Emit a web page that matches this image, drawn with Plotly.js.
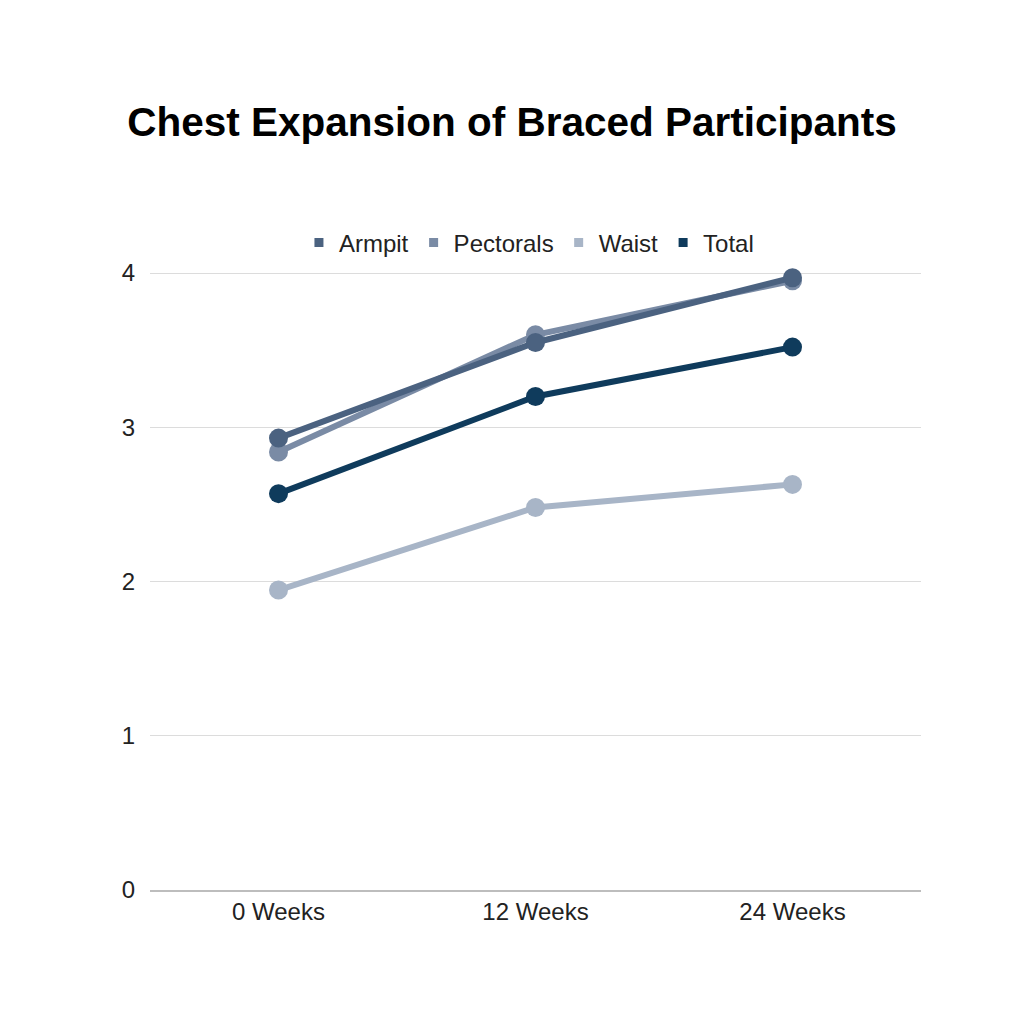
<!DOCTYPE html>
<html><head><meta charset="utf-8">
<script src="https://cdn.plot.ly/plotly-3.0.1.min.js"></script>
<style>body{margin:0;background:#fff}#chart{width:1024px;height:1024px}</style>
</head><body><div id="chart"></div>
<script>
const categories = ["0 Weeks", "12 Weeks", "24 Weeks"];
const seriesNames = ["Armpit", "Pectorals", "Waist", "Total"];
const armpit = [2.93, 3.55, 3.97];
const pectorals = [2.84, 3.60, 3.95];
const waist = [1.945, 2.48, 2.63];
const total = [2.57, 3.20, 3.52];
const yTicks = [0, 1, 2, 3, 4];

const colors = ["#4b6280", "#7a8ba5", "#a8b5c7", "#0f3b5c"];
const values = [armpit, pectorals, waist, total];
const order = [2, 3, 1, 0];
const traces = [];
order.forEach(i => {
  traces.push({
    x: categories, y: values[i], type: "scatter", mode: "lines+markers",
    name: seriesNames[i], showlegend: false, cliponaxis: false,
    line: {color: colors[i], width: 6},
    marker: {color: colors[i], size: 19}
  });
});
[0,1,2,3].forEach(i => {
  traces.push({
    x: [null], y: [null], type: "scatter", mode: "markers",
    name: seriesNames[i], showlegend: true,
    marker: {color: colors[i], size: 9, symbol: "square"}
  });
});
const layout = {
  width: 1024, height: 1024,
  paper_bgcolor: "#fff", plot_bgcolor: "#fff",
  margin: {l: 150, r: 103, t: 270, b: 134},
  font: {family: "Liberation Sans, Arial, sans-serif", color: "#222", size: 24},
  title: {text: "<b>Chest Expansion of Braced Participants</b>", x: 0.5, xanchor: "center", y: 1 - 122/1024, yanchor: "middle",
    font: {size: 40.5, color: "#000", family: "Liberation Sans, Arial, sans-serif"}},
  showlegend: true,
  legend: {orientation: "h", x: 0.4915, xanchor: "center", y: 1 - 243/1024, yref: "container", yanchor: "middle",
    font: {size: 24, color: "#222"}, itemwidth: 30, tracegroupgap: 0, traceorder: "normal"},
  xaxis: {type: "category", range: [-0.5, 2.5], showgrid: false, zeroline: false, showline: true, linecolor: "#bdbdbd", linewidth: 1.5,
    ticks: "", tickfont: {size: 24, color: "#222"}, fixedrange: true},
  yaxis: {range: [0, 4.02], tickvals: yTicks, showgrid: true, gridcolor: "#dcdcdc", gridwidth: 1, zeroline: false,
    ticks: "", ticklabelstandoff: 14, tickfont: {size: 24, color: "#222"}, fixedrange: true}
};
Plotly.newPlot("chart", traces, layout, {displayModeBar: false, staticPlot: true});
</script></body></html>
